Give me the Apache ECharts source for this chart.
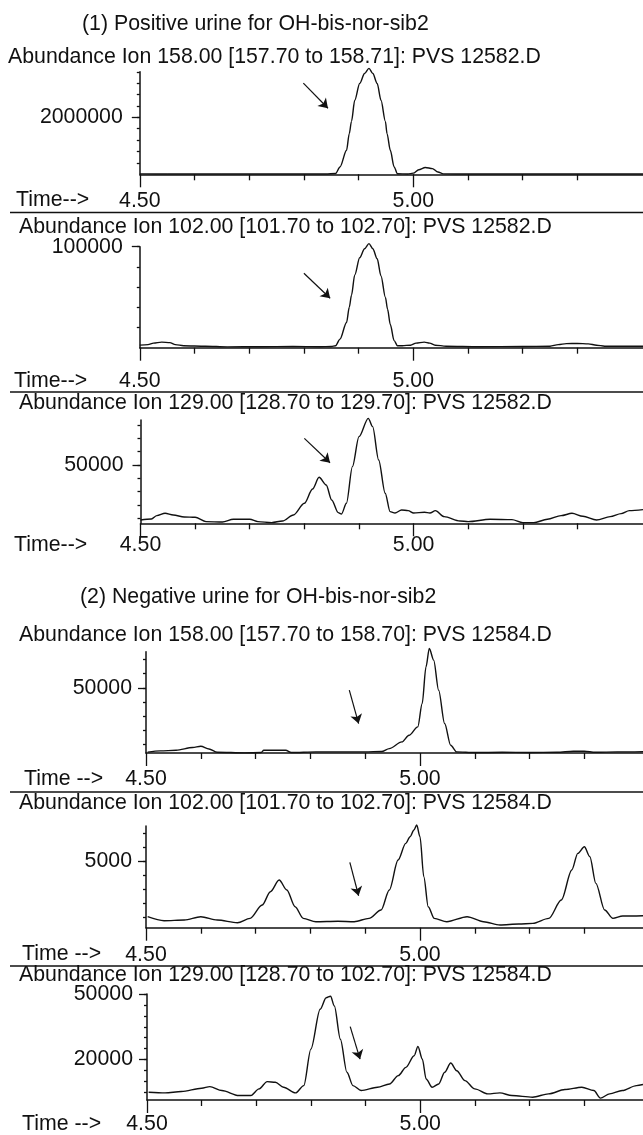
<!DOCTYPE html>
<html><head><meta charset="utf-8">
<script src="https://cdn.jsdelivr.net/npm/echarts@6/dist/echarts.min.js"></script>
<style>html,body{margin:0;padding:0;background:#fff}#c{width:643px;height:1135px}</style>
</head><body><div id="c"></div>
<script>
// ---------- texts ----------
const sectionTitles = ['(1) Positive urine for OH-bis-nor-sib2', '(2) Negative urine for OH-bis-nor-sib2'];
const panelTitles = [
  'Abundance Ion 158.00 [157.70 to 158.71]: PVS 12582.D',
  'Abundance Ion 102.00 [101.70 to 102.70]: PVS 12582.D',
  'Abundance Ion 129.00 [128.70 to 129.70]: PVS 12582.D',
  'Abundance Ion 158.00 [157.70 to 158.70]: PVS 12584.D',
  'Abundance Ion 102.00 [101.70 to 102.70]: PVS 12584.D',
  'Abundance Ion 129.00 [128.70 to 102.70]: PVS 12584.D'
];
const timeLabels = ['Time-->', 'Time-->', 'Time-->', 'Time -->', 'Time -->', 'Time -->'];

// ---------- ticks ----------
const xMinorTicks = [4.6, 4.7, 4.8, 4.9, 5.1, 5.2, 5.3];
const xMajorTicks = [4.5, 5.0];
const yMinor1 = [400000, 800000, 1200000, 1600000, 2000000, 2400000, 2800000, 3200000, 3600000];
const yMajor1 = [2000000];
const yMinor2 = [20000, 40000, 60000, 80000, 100000];
const yMajor2 = [100000];
const yMinor3 = [10000, 20000, 30000, 40000, 50000, 60000, 70000, 80000];
const yMajor3 = [50000];
const yMinor4 = [10000, 20000, 30000, 40000, 50000, 60000, 70000];
const yMajor4 = [50000];
const yMinor5 = [1000, 2000, 3000, 4000, 5000, 6000, 7000];
const yMajor5 = [5000];
const yMinor6 = [5000, 10000, 15000, 20000, 25000, 30000, 35000, 40000, 45000, 50000];
const yMajor6 = [20000, 50000];

// ---------- data: [time (min), abundance] ----------
const pos158 = [[4.50,15000],[4.55,10000],[4.60,12000],[4.65,8000],[4.70,10000],[4.75,8000],[4.80,10000],[4.84,12000],
  [4.858,30000],[4.866,258000],[4.878,844000],[4.883,1430000],[4.887,1860000],[4.893,2600000],[4.902,3190000],[4.911,3540000],
  [4.919,3720000],[4.926,3540000],[4.934,3190000],[4.941,2600000],[4.949,1860000],[4.952,1430000],[4.958,844000],[4.965,258000],
  [4.971,20000],[4.99,10000],[5.00,40000],[5.01,160000],[5.022,240000],[5.035,200000],[5.045,80000],[5.055,15000],
  [5.10,10000],[5.15,12000],[5.20,8000],[5.25,10000],[5.30,10000],[5.35,8000],[5.42,10000]];
const pos102 = [[4.50,2500],[4.515,3000],[4.525,4500],[4.54,5500],[4.555,5000],[4.565,3000],[4.58,2000],[4.62,1500],[4.66,800],
  [4.72,1000],[4.78,1200],[4.83,1000],[4.85,1200],[4.858,2000],[4.866,8500],[4.878,25000],[4.883,40000],[4.887,52000],[4.893,72000],
  [4.902,89000],[4.911,98000],[4.919,103000],[4.926,98000],[4.934,88000],[4.941,71000],[4.949,50000],[4.953,38000],[4.958,23000],
  [4.965,7000],[4.971,2000],[4.98,2000],[4.995,2500],[5.005,4500],[5.02,5500],[5.03,4500],[5.04,2500],[5.06,1500],[5.12,1000],
  [5.20,1200],[5.25,1500],[5.265,3000],[5.28,4000],[5.30,4200],[5.32,3800],[5.335,2500],[5.35,1500],[5.42,1500]];
const pos129 = [[4.50,8750],[4.52,9500],[4.53,12000],[4.545,13750],[4.56,12500],[4.58,11000],[4.60,10750],[4.62,7500],[4.65,7200],
  [4.67,9250],[4.70,9250],[4.715,7500],[4.74,6750],[4.76,8000],[4.78,12500],[4.80,21250],[4.815,32000],[4.827,40750],[4.84,35000],
  [4.85,23750],[4.862,14250],[4.868,13250],[4.877,21250],[4.888,48750],[4.90,71250],[4.917,85000],[4.925,78750],[4.936,53750],
  [4.948,28750],[4.957,15000],[4.966,14000],[4.978,16250],[4.99,15750],[5.00,14000],[5.02,14500],[5.03,14000],[5.04,15750],
  [5.056,11250],[5.085,8000],[5.10,7500],[5.14,9250],[5.18,9000],[5.20,6750],[5.22,6750],[5.245,9250],[5.27,12000],[5.29,13750],
  [5.31,11500],[5.335,8750],[5.36,11250],[5.38,13500],[5.395,15750],[5.42,16500]];
const neg158 = [[4.503,4800],[4.526,5670],[4.555,6140],[4.585,8040],[4.60,8980],[4.615,7060],[4.63,4730],[4.68,4300],[4.71,4500],
  [4.715,6140],[4.755,6140],[4.765,4500],[4.81,4966],[4.90,4966],[4.93,5300],[4.944,7300],[4.967,11990],[4.98,16700],[4.996,22540],
  [5.004,39000],[5.011,64800],[5.017,77700],[5.025,69500],[5.034,48400],[5.045,24900],[5.056,9660],[5.067,4966],[5.10,4500],
  [5.15,4700],[5.20,4600],[5.25,4700],[5.28,5440],[5.30,5440],[5.32,4700],[5.36,4966],[5.407,5200]];
const neg102 = [[4.503,1025],[4.533,740],[4.57,787],[4.60,1025],[4.63,787],[4.667,597],[4.69,906],[4.712,1858],[4.727,2810],
  [4.743,3643],[4.757,2930],[4.772,1740],[4.787,906],[4.81,668],[4.85,700],[4.88,668],[4.907,906],[4.929,1500],[4.944,2930],
  [4.96,5071],[4.974,6261],[4.982,6737],[4.989,7213],[4.994,7570],[5.00,6737],[5.007,3881],[5.015,1740],[5.026,906],[5.049,668],
  [5.086,1025],[5.116,668],[5.146,430],[5.18,500],[5.206,549],[5.235,906],[5.258,2215],[5.277,4357],[5.288,5547],[5.30,6023],
  [5.31,5309],[5.321,3405],[5.337,1500],[5.352,906],[5.37,1073],[5.407,1097]];
const neg129 = [[4.503,5070],[4.533,4760],[4.563,5370],[4.60,6880],[4.615,7640],[4.637,5820],[4.668,3540],[4.69,3540],[4.705,6580],
  [4.72,9920],[4.735,9610],[4.75,7340],[4.772,4760],[4.787,8100],[4.80,24800],[4.817,43000],[4.828,48300],[4.836,49000],[4.843,44500],
  [4.854,29300],[4.866,14200],[4.877,8100],[4.892,5820],[4.922,7340],[4.944,8850],[4.96,12650],[4.974,16430],[4.989,21750],
  [4.996,26000],[5.004,20230],[5.011,11130],[5.022,7340],[5.034,8850],[5.045,14200],[5.056,18400],[5.067,14900],[5.082,10360],
  [5.10,6580],[5.124,4300],[5.146,4760],[5.168,3540],[5.206,2790],[5.235,4300],[5.265,6270],[5.296,7340],[5.318,5820],[5.33,2350],
  [5.347,4300],[5.37,5820],[5.396,8100],[5.408,8600]];

// arrow annotations: [[t1, y1], [t2, y2]] in data units
const arrows = [
  [[4.799, 3200000], [4.844, 2320000]],
  [[4.800, 73700], [4.848, 49000]],
  [[4.800, 70000], [4.847, 51700]],
  [[4.871, 48400], [4.888, 24900]],
  [[4.872, 4900], [4.888, 2520]],
  [[4.872, 35100], [4.890, 20200]]
];

const seriesData = [pos158, pos102, pos129, neg158, neg102, neg129];
const yMinors = [yMinor1, yMinor2, yMinor3, yMinor4, yMinor5, yMinor6];
const yMajors = [yMajor1, yMajor2, yMajor3, yMajor4, yMajor5, yMajor6];
const yRanges = [[0, 3600000], [0, 100000], [6250, 83750], [4200, 75400], [240, 7500], [1500, 50000]];
const xMax = [5.42, 5.42, 5.42, 5.407, 5.407, 5.408];

// ---------- layout ----------
const L = [
  {left: 139.8, top: 71.8, bottom: 174.3, lblMargin: 16, ylm: 17, titleY: 59, titleX: 8, timeY: 202, timeX: 16, line: 212.5},
  {left: 139.8, top: 246.7, bottom: 347.7, lblMargin: 23, ylm: 17, titleY: 229, titleX: 19, timeY: 382.5, timeX: 14, line: 392},
  {left: 140.5, top: 420, bottom: 523.3, lblMargin: 11, ylm: 17, titleY: 405, titleX: 19, timeY: 547, timeX: 14, line: null},
  {left: 146, top: 651.7, bottom: 753, lblMargin: 16, ylm: 14, titleY: 637, titleX: 19, timeY: 781, timeX: 24, line: 792},
  {left: 146, top: 826, bottom: 927.7, lblMargin: 17, ylm: 14, titleY: 805, titleX: 19, timeY: 956, timeX: 22, line: 966},
  {left: 147, top: 994, bottom: 1100.7, lblMargin: 14, ylm: 14, titleY: 977, titleX: 19, timeY: 1126, timeX: 22, line: null}
];
const INK = '#111';
const FONT = '"Liberation Sans", Arial, sans-serif';
const FS = 21.3;

const grids = [], xAxes = [], yAxes = [], series = [], graphics = [];
L.forEach((p, i) => {
  grids.push({left: p.left, top: p.top, height: p.bottom - p.top, right: 0, containLabel: false});
  const common = {type: 'value', gridIndex: i, min: 4.5, max: xMax[i], position: 'bottom', splitLine: {show: false}};
  xAxes.push(Object.assign({}, common, {
    axisLine: {show: true, lineStyle: {color: INK, width: 1.5}},
    axisTick: {show: true, length: 6, customValues: xMinorTicks, lineStyle: {color: INK, width: 1.3}},
    axisLabel: {show: false}
  }));
  xAxes.push(Object.assign({}, common, {
    axisLine: {show: false},
    axisTick: {show: true, length: 13, customValues: xMajorTicks, lineStyle: {color: INK, width: 1.3}},
    axisLabel: {show: true, customValues: xMajorTicks, margin: p.lblMargin, color: INK, fontFamily: FONT, fontSize: FS,
      formatter: v => Number(v).toFixed(2)}
  }));
  const yc = {type: 'value', gridIndex: i, min: yRanges[i][0], max: yRanges[i][1], position: 'left', splitLine: {show: false}};
  yAxes.push(Object.assign({}, yc, {
    axisLine: {show: true, lineStyle: {color: INK, width: 1.5}},
    axisTick: {show: true, length: 3, customValues: yMinors[i], lineStyle: {color: INK, width: 1.3}},
    axisLabel: {show: false}
  }));
  yAxes.push(Object.assign({}, yc, {
    axisLine: {show: false},
    axisTick: {show: true, length: 8, customValues: yMajors[i], lineStyle: {color: INK, width: 1.3}},
    axisLabel: {show: true, customValues: yMajors[i], margin: p.ylm, color: INK, fontFamily: FONT, fontSize: FS,
      formatter: v => String(Math.round(v))}
  }));
  series.push({
    type: 'line', xAxisIndex: 2 * i, yAxisIndex: 2 * i, data: seriesData[i],
    showSymbol: false, smooth: 0.3, smoothMonotone: 'x', clip: false,
    lineStyle: {color: INK, width: 1.4}, silent: true,
    markLine: {
      silent: true, symbol: ['none', 'arrow'], symbolSize: 9, animation: false,
      label: {show: false},
      lineStyle: {color: INK, width: 1.2, type: 'solid'},
      data: [[{coord: arrows[i][0]}, {coord: arrows[i][1]}]]
    }
  });
  graphics.push({type: 'text', left: p.titleX, top: p.titleY - 12,
    style: {text: panelTitles[i], fill: INK, font: FS + 'px ' + FONT}});
  graphics.push({type: 'text', left: p.timeX, top: p.timeY - 12,
    style: {text: timeLabels[i], fill: INK, font: FS + 'px ' + FONT}});
  if (p.line !== null) {
    graphics.push({type: 'line', shape: {x1: 10, y1: p.line, x2: 643, y2: p.line},
      style: {stroke: INK, lineWidth: 1.5}});
  }
});
graphics.push({type: 'text', left: 82, top: 26 - 12, style: {text: sectionTitles[0], fill: INK, font: FS + 'px ' + FONT}});
graphics.push({type: 'text', left: 80, top: 599 - 12, style: {text: sectionTitles[1], fill: INK, font: FS + 'px ' + FONT}});

const chart = echarts.init(document.getElementById('c'), null, {renderer: 'canvas'});
chart.setOption({
  animation: false,
  backgroundColor: '#fff',
  grid: grids, xAxis: xAxes, yAxis: yAxes, series: series,
  graphic: graphics
});
</script></body></html>
